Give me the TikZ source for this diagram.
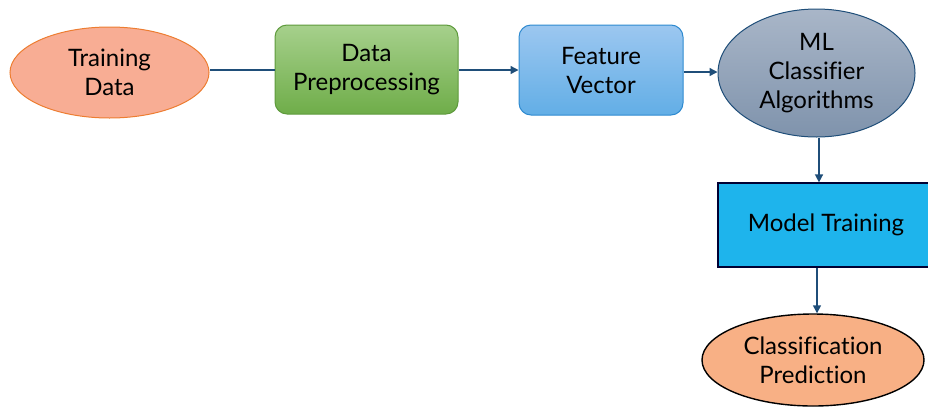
\documentclass[tikz,border=0pt]{standalone}
\usepackage{fontspec}
\setmainfont[Ligatures={NoCommon}]{Lato}
\usetikzlibrary{shapes.geometric,arrows.meta}
\definecolor{lineblue}{HTML}{1F4E79}
\definecolor{salmon}{HTML}{F8AD94}
\definecolor{salmonedge}{HTML}{ED7D31}
\definecolor{gtop}{HTML}{A6D08C}
\definecolor{gbot}{HTML}{6FAD49}
\definecolor{gedge}{HTML}{5E9A3C}
\definecolor{btop}{HTML}{9CC7F0}
\definecolor{bbot}{HTML}{62AEE6}
\definecolor{bedge}{HTML}{2E8AD0}
\definecolor{stop}{HTML}{A9B6C8}
\definecolor{sbot}{HTML}{7F93AC}
\definecolor{cyanbox}{HTML}{1EB4EC}
\definecolor{peach}{HTML}{F8B085}
\tikzset{
  txt/.style={font=\fontsize{24}{29}\selectfont, align=center, text=black, inner sep=0pt},
  link/.style={draw=lineblue, line width=1.4pt},
  arr/.style={link, -{Triangle[length=8pt,width=8pt]}},
}
\begin{document}
\begin{tikzpicture}[x=1pt,y=1pt]
\useasboundingbox (0,0) rectangle (928,-410);
\clip (0,0) rectangle (928,-410);
\node[ellipse, draw=salmonedge, line width=1pt, fill=salmon, minimum width=199pt, minimum height=91pt, txt] (td) at (109.5,-72.5) {Training\\Data};
\node[rectangle, rounded corners=12pt, draw=gedge, line width=1pt, top color=gtop, bottom color=gbot, minimum width=183pt, minimum height=89pt, txt] (dp) at (366.5,-69.5) {Data\\Preprocessing};
\node[rectangle, rounded corners=12pt, draw=bedge, line width=1pt, top color=btop, bottom color=bbot, minimum width=164pt, minimum height=90pt, txt] (fv) at (601,-70) {Feature\\Vector};
\node[ellipse, draw=lineblue, line width=1pt, top color=stop, bottom color=sbot, minimum width=197pt, minimum height=128pt, txt] (ml) at (816.5,-73) {ML\\Classifier\\Algorithms};
\node[rectangle, draw=black!80!blue, line width=1.2pt, fill=cyanbox, minimum width=216pt, minimum height=84pt, txt] (mt) at (826,-225) {Model Training};
\node[ellipse, draw=black, line width=1.4pt, fill=peach, minimum width=222pt, minimum height=92pt, txt] (cp) at (813,-360) {Classification\\Prediction};
\draw[link] (td.east |- 0,-70) -- (dp.west |- 0,-70);
\draw[arr] (dp.east |- 0,-70) -- (fv.west |- 0,-70);
\draw[arr] (fv.east |- 0,-72) -- (ml.west |- 0,-72);
\draw[arr] (ml.south -| 819,0) -- (mt.north -| 819,0);
\draw[arr] (mt.south -| 817,0) -- (cp.north -| 817,0);
\end{tikzpicture}
\end{document}
